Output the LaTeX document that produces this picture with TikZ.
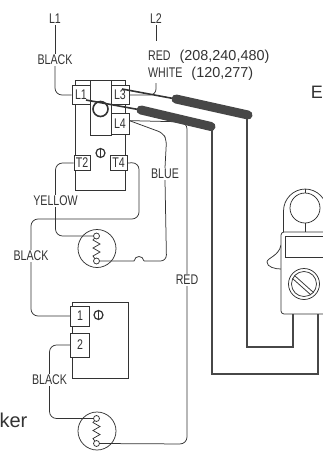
\documentclass[tikz,border=0pt]{standalone}
\usepackage{fontspec}
\setmainfont{Liberation Sans}
\newfontfamily\wirefont[FakeStretch=0.76]{Liberation Sans}
\definecolor{wirecol}{gray}{0.2}
\tikzset{
  wire/.style={draw=wirecol,line width=0.75pt},
  lead/.style={draw=wirecol!90,line width=2.2pt},
  cable/.style={draw=wirecol!90,line width=9pt,line cap=round},
  lbl/.style={font=\wirefont\fontsize{14}{14}\selectfont,text=wirecol,inner sep=0pt,minimum height=12pt,fill=white},
  big/.style={font=\fontsize{20}{20}\selectfont,text=wirecol,inner sep=0pt},
  term/.style={draw=wirecol,line width=0.75pt,fill=white,inner sep=0pt,minimum width=18pt,minimum height=19pt,
    font=\wirefont\fontsize{14}{14}\selectfont,text=wirecol},
  heater/.style={circle,draw=wirecol,line width=0.75pt,minimum size=38pt,inner sep=0pt},
  contact/.style={circle,draw=wirecol,line width=0.75pt,fill=white,minimum size=6pt,inner sep=0pt},
}
\begin{document}
\begin{tikzpicture}[x=1pt,y=-1pt]
  \useasboundingbox (0,0) rectangle (323,451);
  \clip (0,0) rectangle (323,451);
  % thermostat bodies
  \draw[wire] (75.5,104) -- (75.5,80) -- (125.5,80) -- (125.5,190) -- (75.5,190) -- (75.5,104);
  \draw[wire,fill=white] (90,80) rectangle (111,135);
  \draw[wire] (72,302) rectangle (128,378);
  % terminals
  \node[term] (tLa) at (81,95) {L1};
  \node[term] (tLc) at (120,95) {L3};
  \node[term,minimum height=21pt] (tLd) at (120,123.5) {L4};
  \node[term,minimum width=16pt,minimum height=15pt] (tTb) at (82,163) {T2};
  \node[term,minimum width=17pt,minimum height=15pt] (tTd) at (118.5,163) {T4};
  \node[term,minimum width=19pt,minimum height=20pt] (tOne) at (80,316) {1};
  \node[term,minimum width=19pt,minimum height=24pt] (tTwo) at (80,345) {2};
  \draw[wirecol,line width=1.6pt] (100.5,109) circle (7.5);
  % screws
  \foreach \x/\y in {100.5/153,98.5/315} {
    \draw[wirecol,line width=1.2pt,fill=white] (\x,\y) circle (4.5);
    \draw[wirecol,line width=1pt] (\x,\y-4.5) -- (\x,\y+4.5);
  }
  % labels
  \node[lbl] (topa) at (55,19) {L1};
  \node[lbl] (topb) at (156,19) {L2};
  \node[lbl] (lblack) at (55,60) {BLACK};
  \node[lbl,anchor=west] (lred) at (148,57) {RED\hspace{9pt}{\rmfamily\fontsize{14.4}{14}\selectfont (208,240,480)}};
  \node[lbl,anchor=west] (lwhite) at (148,74) {WHITE\hspace{9pt}{\rmfamily\fontsize{14.4}{14}\selectfont (120,277)}};
  \node[lbl] (lblue) at (165,174) {BLUE};
  \node[lbl] (lyellow) at (55.5,201) {YELLOW};
  \node[lbl] (lblackb) at (31,256) {BLACK};
  \node[lbl] (lredb) at (187,280) {RED};
  \node[lbl] (lblackc) at (49.5,380) {BLACK};
  \node[big,font=\fontsize{18}{18}\selectfont,anchor=base east] (letE) at (323,98) {E};
  \node[big,anchor=base east] (letker) at (27.5,427) {ker};
  % heaters
  \foreach \n/\y in {upper/248.5,lower/431} {
    \node[heater] (\n) at (97,\y) {};
    \draw[wire] (96.5,\y-12.5) -- ++(-3.5,4) -- ++(7,4) -- ++(-7,4) -- ++(7,4) -- ++(-7,4) -- (96.5,\y+12.5);
    \node[contact] (\n a) at (96.5,\y-12.5) {};
    \node[contact] (\n b) at (96.5,\y+12.5) {};
  }
  % wires
  \draw[wire] (topa.south) -- (lblack.north);
  \draw[wire,rounded corners=7] (lblack.south) |- (tLa.west);
  \draw[wire] (topb.south) -- ++(0,16);
  \draw[wire,rounded corners=6] (156,83) |- (tLc.east);
  \draw[wire,rounded corners=7] (tTb.west) -| (lyellow.north);
  \draw[wire,rounded corners=7] (lyellow.south) |- (uppera.west);
  \draw[wire,rounded corners=7] (tTd.east) -- (139,162.5) -- (139,219) -- (31,219) -- (lblackb.north);
  \draw[wire,rounded corners=7] (lblackb.south) |- (tOne.west);
  \draw[wire,rounded corners=7] (tTwo.west) -| (lblackc.north);
  \draw[wire,rounded corners=7] (lblackc.south) |- (lowera.west);
  \coordinate (hopl) at (134,261);
  \coordinate (hopr) at (144,261);
  \draw[wire] (upperb.east) -- (hopl) .. controls (135,255) and (143,255) .. (hopr);
  \draw[wire,rounded corners=6] (hopr) -- (166.5,261) -- (lblue.south);
  \draw[wire,rounded corners=5] (tLd.north east) ++(0,8) -- (163,133) -- (166.5,140) -- (lblue.north);
  \draw[wire,rounded corners=7] (tLd.north east) ++(0,8) -- (187,122) -- (lredb.north);
  \draw[wire,rounded corners=7] (lredb.south) -- (187,444) -- (lowerb.east);
  % meter
  \draw[wire,rounded corners=22] (283.5,232) -- (283.5,189) -- (327,189) -- (327,232);
  \draw[wire] (305,189) -- (305,193);
  \draw[wire] (305,223) -- (305,232);
  \draw[wire] (305,208) circle (15);
  \draw[wire,fill=white] (281,245) .. controls (279,256) and (267,258) .. (267,262) .. controls (267,267) and (275,269) .. (281,269);
  \draw[wire,fill=white,rounded corners=3] (281,314) rectangle (340,232);
  \draw[wire] (285,236) rectangle (340,257);
  \draw[wire] (304,284) circle (15.5);
  \draw[wire] (304,284) circle (12.5);
  \draw[wire] (294.5,275.5) -- (313.5,292.5);
  \draw[wire] (292.5,278.5) -- (311,295);
  % leads
  \coordinate (cabla) at (176,99);
  \coordinate (cablb) at (248,115);
  \coordinate (cabca) at (141,110);
  \coordinate (cabcb) at (211,126.5);
  \draw[lead] (247,115) -- (247,347) -- (293,347) -- (293,314);
  \draw[lead] (212,126) -- (212,374) -- (318,374) -- (318,314);
  \draw[wirecol,line width=1.6pt] (tLc.center) ++(2,-6) -- (cabla);
  \draw[wirecol,line width=1.6pt] (tLa.center) ++(5,5) -- (cabca);
  \draw[cable] (cabla) -- (cablb);
  \draw[cable] (cabca) -- (cabcb);
\end{tikzpicture}
\end{document}
